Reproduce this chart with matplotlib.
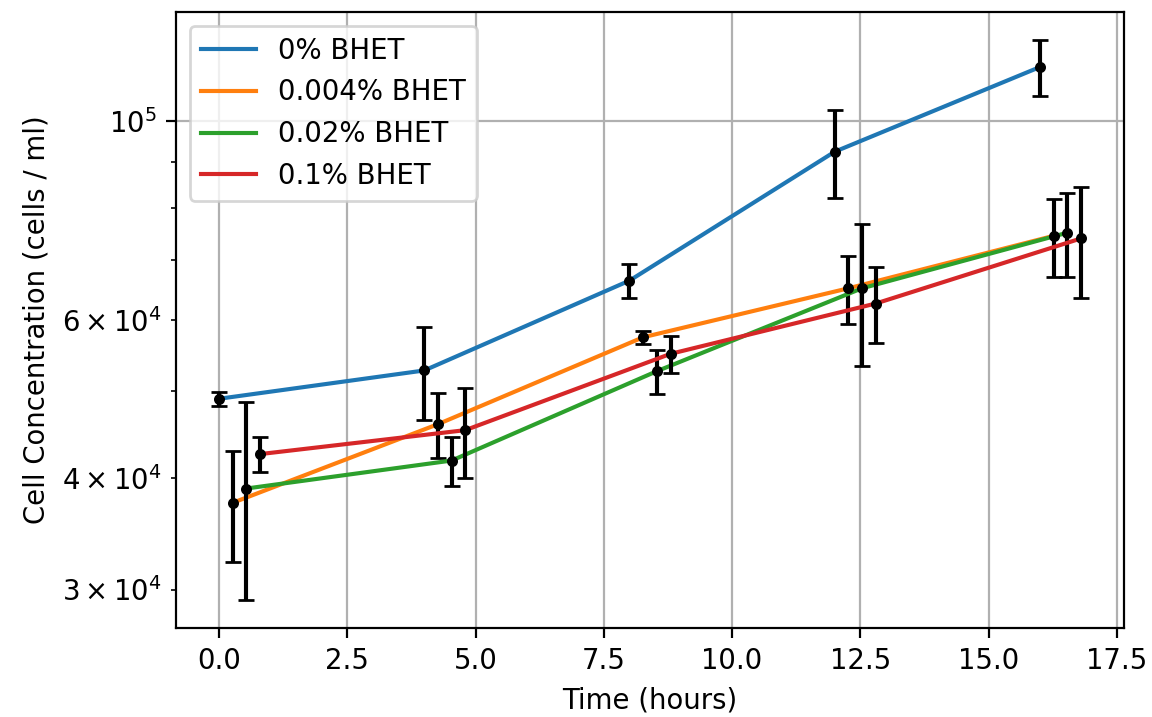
import numpy as np
import matplotlib
matplotlib.use("Agg")
import matplotlib.pyplot as plt

# sampling times (hours) and per-condition x offset so bars don't overlap
times = np.array([0, 4, 8, 12, 16])
offsets = [0.0, 0.267, 0.533, 0.8]
labels = ["0% BHET", "0.004% BHET", "0.02% BHET", "0.1% BHET"]

# mean cell concentration (cells / ml) and std
conc_0 = [49000, 52700, 66400, 92500, 115000]
err_0 = [900, 6300, 2900, 10400, 8300]
conc_0004 = [37500, 45900, 57400, 65100, 74500]
err_0004 = [5300, 3850, 1000, 5700, 7500]
conc_002 = [38900, 41800, 52600, 65100, 75100]
err_002 = [9700, 2600, 3000, 11800, 8100]
conc_01 = [42500, 45200, 55000, 62600, 74000]
err_01 = [1870, 5200, 2600, 6100, 10450]

means = [conc_0, conc_0004, conc_002, conc_01]
errs = [err_0, err_0004, err_002, err_01]

dpi = 198
fig = plt.figure(figsize=(1152 / dpi, 717 / dpi), dpi=dpi)
ax = fig.add_axes([0.1528, 0.1241, 0.8229, 0.8592])

for off, lab, m, e in zip(offsets, labels, means, errs):
    x = times + off
    ax.plot(x, m, label=lab)
    ax.errorbar(x, m, yerr=e, fmt='k.', capsize=3)

ax.set_yscale('log')
ax.set_xlabel("Time (hours)")
ax.set_ylabel("Cell Concentration (cells / ml)")
ax.grid()
ax.legend(loc='upper left')

fig.savefig("out.png", dpi=dpi)
